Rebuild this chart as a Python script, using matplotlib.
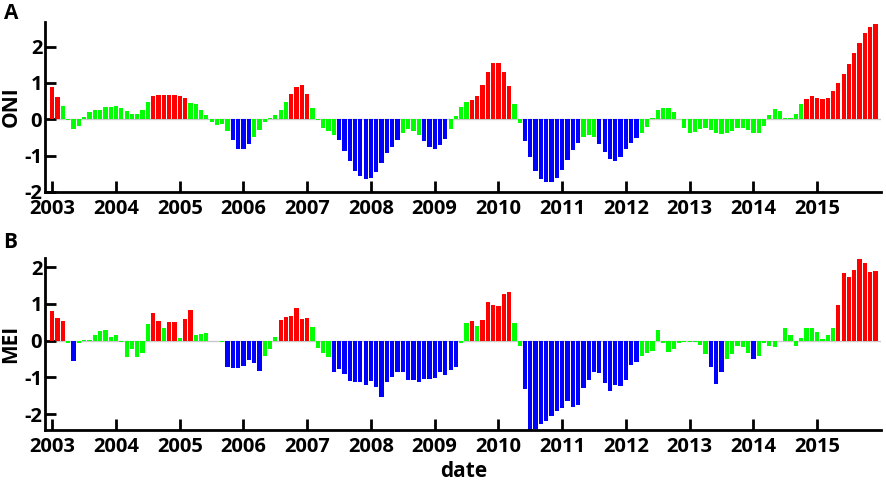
import numpy as np
import matplotlib
matplotlib.use("Agg")
import matplotlib.pyplot as plt

plt.rcParams['font.family'] = ['Open Sans', 'DejaVu Sans']
plt.rcParams['font.weight'] = 'bold'

# monthly values Jan 2003 .. Dec 2015
oni = [
    0.90, 0.61, 0.37, -0.03, -0.27, -0.19, 0.06, 0.19, 0.25, 0.27, 0.33, 0.33,
    0.36, 0.30, 0.22, 0.16, 0.16, 0.27, 0.47, 0.63, 0.68, 0.66, 0.66, 0.68,
    0.63, 0.58, 0.44, 0.41, 0.27, 0.11, -0.07, -0.16, -0.13, -0.32, -0.58, -0.83,
    -0.81, -0.69, -0.48, -0.29, -0.07, 0.03, 0.11, 0.26, 0.47, 0.70, 0.89, 0.94,
    0.69, 0.30, -0.02, -0.24, -0.31, -0.44, -0.56, -0.86, -1.14, -1.42, -1.55, -1.63,
    -1.62, -1.44, -1.21, -0.94, -0.76, -0.56, -0.37, -0.27, -0.32, -0.43, -0.61, -0.76,
    -0.82, -0.71, -0.53, -0.26, 0.08, 0.34, 0.47, 0.53, 0.64, 0.94, 1.30, 1.56,
    1.55, 1.31, 0.92, 0.43, -0.10, -0.61, -1.05, -1.41, -1.63, -1.73, -1.72, -1.61,
    -1.39, -1.11, -0.85, -0.66, -0.48, -0.42, -0.48, -0.67, -0.90, -1.09, -1.15, -1.03,
    -0.82, -0.64, -0.51, -0.39, -0.21, 0.04, 0.25, 0.32, 0.30, 0.19, 0.01, -0.24,
    -0.39, -0.35, -0.26, -0.23, -0.30, -0.37, -0.40, -0.37, -0.32, -0.24, -0.24, -0.30,
    -0.39, -0.37, -0.19, 0.11, 0.29, 0.22, 0.05, 0.03, 0.16, 0.43, 0.57, 0.65,
    0.59, 0.55, 0.60, 0.79, 1.01, 1.24, 1.53, 1.83, 2.11, 2.37, 2.53, 2.63,
]
mei = [
    0.80, 0.62, 0.53, -0.07, -0.56, -0.07, 0.01, 0.01, 0.14, 0.25, 0.29, 0.10,
    0.16, -0.05, -0.45, -0.24, -0.45, -0.35, 0.44, 0.74, 0.54, 0.35, 0.51, 0.51,
    0.07, 0.60, 0.82, 0.14, 0.19, 0.20, -0.01, 0.00, -0.05, -0.71, -0.75, -0.74,
    -0.68, -0.52, -0.60, -0.84, -0.43, -0.23, 0.11, 0.55, 0.63, 0.68, 0.89, 0.59,
    0.62, 0.38, -0.21, -0.35, -0.45, -0.85, -0.76, -0.92, -1.09, -1.13, -1.13, -1.20,
    -1.11, -1.27, -1.54, -1.12, -0.98, -0.85, -0.86, -1.07, -1.07, -1.12, -1.05, -1.05,
    -1.02, -0.85, -0.94, -0.81, -0.72, -0.06, 0.49, 0.52, 0.39, 0.55, 1.05, 0.97,
    0.94, 1.28, 1.31, 0.48, -0.16, -1.32, -2.50, -2.40, -2.28, -2.19, -2.05, -1.91,
    -1.83, -1.63, -1.80, -1.74, -1.29, -1.08, -0.85, -0.87, -1.15, -1.36, -1.21, -1.24,
    -1.07, -0.66, -0.57, -0.43, -0.35, -0.29, 0.30, -0.06, -0.32, -0.22, -0.07, -0.05,
    -0.05, -0.05, -0.13, -0.37, -0.71, -1.18, -0.85, -0.49, -0.37, -0.16, -0.18, -0.35,
    -0.51, -0.43, -0.07, -0.16, -0.18, -0.02, 0.33, 0.16, -0.15, 0.06, 0.34, 0.34,
    0.23, 0.05, 0.14, 0.35, 0.96, 1.85, 1.74, 1.92, 2.21, 2.10, 1.87, 1.89,
]
years = list(range(2003, 2016))
yticks = [-2, -1, 0, 1, 2]


def bar_colors(vals):
    cols = []
    for v in vals:
        if v > 0.5:
            cols.append('#ff0000')
        elif v < -0.5:
            cols.append('#0000ff')
        else:
            cols.append('#00ff00')
    return cols


def panel(ax, vals, ylab, ylim):
    x = np.arange(len(vals))
    ax.axhline(0, color='#c8c8c8', lw=1, zorder=0)
    ax.bar(x, vals, width=0.8, color=bar_colors(vals), zorder=2)
    ax.set_xlim(-1.37, 156.1)
    ax.set_ylim(*ylim)
    ax.set_xticks(np.arange(0, len(vals), 12))
    ax.set_xticklabels([str(y) for y in years])
    ax.set_yticks(yticks)
    ax.set_yticklabels([str(t) for t in yticks])
    for s in ['top', 'right']:
        ax.spines[s].set_visible(False)
    for s in ['left', 'bottom']:
        ax.spines[s].set_linewidth(2)
    ax.tick_params(direction='in', length=8, width=2, labelsize=14.5)
    ax.tick_params(axis='x', pad=5)
    ax.tick_params(axis='y', pad=2)
    ax.set_ylabel(ylab, fontsize=15, fontweight='bold')
    ax.yaxis.set_label_coords(-0.028, 0.5)


fig = plt.figure(figsize=(8.86, 4.82), dpi=100)
ax1 = fig.add_axes([0.0508, 0.6017, 0.944, 0.352])
ax2 = fig.add_axes([0.0508, 0.108, 0.944, 0.357])

panel(ax1, oni, 'ONI', (-2.0, 2.67))
panel(ax2, mei, 'MEI', (-2.43, 2.25))
ax2.set_xlabel('date', fontsize=15, fontweight='bold', labelpad=3)

fig.text(0.004, 1 - 3 / 482, 'A', fontsize=15, fontweight='bold', va='top')
fig.text(0.004, 1 - 232 / 482, 'B', fontsize=15, fontweight='bold', va='top')

fig.savefig('out.png', dpi=100)
